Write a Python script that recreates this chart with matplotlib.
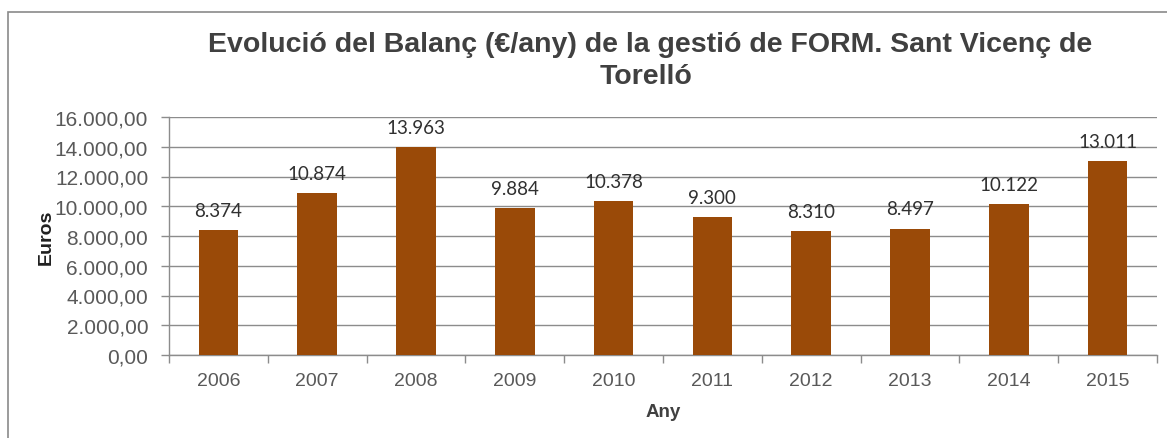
import numpy as np
import matplotlib.pyplot as plt
import matplotlib as mpl
from matplotlib.patches import Rectangle
from matplotlib.ticker import FuncFormatter, MultipleLocator

# ---------------------------------------------------------------------------
# Data
# ---------------------------------------------------------------------------
years = ["2006", "2007", "2008", "2009", "2010",
         "2011", "2012", "2013", "2014", "2015"]
balance = [8374, 10874, 13963, 9884, 10378, 9300, 8310, 8497, 10122, 13011]
bar_labels = ["8.374", "10.874", "13.963", "9.884", "10.378",
              "9.300", "8.310", "8.497", "10.122", "13.011"]

title_1 = "Evolució del Balanç (€/any) de la gestió de FORM. Sant Vicenç de"
title_2 = "Torelló"

mpl.rcParams.update({"font.family": ["Liberation Sans", "DejaVu Sans"]})

BAR_COLOR = "#9a4a08"
GRID_COLOR = "#8c8c8c"
TEXT_GRAY = "#595959"


def euro_fmt(v, pos):
    s = f"{v:,.2f}"
    return s.replace(",", "X").replace(".", ",").replace("X", ".")


# ---------------------------------------------------------------------------
# Plot
# ---------------------------------------------------------------------------
fig = plt.figure(figsize=(11.67, 4.39), dpi=100)
ax = fig.add_axes([169 / 1167, 1 - 356 / 439, (1157 - 169) / 1167, (356 - 118) / 439])

# outer chart frame (Excel style)
fig.patches.append(Rectangle((8 / 1167, -0.1), 1.2, 1 - 13 / 439 + 0.1,
                             transform=fig.transFigure, fill=False,
                             edgecolor="#8a8a8a", lw=1.2))

x = np.arange(len(years))
ax.bar(x, balance, width=0.4, color=BAR_COLOR, zorder=3)

for xi, v, lab in zip(x, balance, bar_labels):
    ax.annotate(lab, (xi, v), xytext=(0, 8), textcoords="offset points",
                ha="center", va="bottom", fontsize=13.5, color="#303030",
                family=["Lato", "DejaVu Sans"])

ax.set_xlim(-0.5, len(years) - 0.5)
ax.set_ylim(0, 16000)
ax.yaxis.set_major_locator(MultipleLocator(2000))
ax.yaxis.set_major_formatter(FuncFormatter(euro_fmt))
ax.grid(axis="y", color=GRID_COLOR, lw=1, zorder=0)

ax.set_xticks(x)
ax.set_xticklabels(years)
ax.set_xticks(np.arange(-0.5, len(years)), minor=True)
ax.tick_params(axis="x", which="major", length=0, pad=12,
               labelsize=14, labelcolor=TEXT_GRAY)
ax.tick_params(axis="x", which="minor", length=6, color=GRID_COLOR, width=1)
ax.tick_params(axis="y", length=6, color=GRID_COLOR, width=1, pad=9,
               labelsize=15, labelcolor=TEXT_GRAY)

for side in ("top", "right"):
    ax.spines[side].set_visible(False)
for side in ("left", "bottom"):
    ax.spines[side].set_color(GRID_COLOR)
    ax.spines[side].set_linewidth(1)

ax.set_xlabel("Any", fontsize=13.5, fontweight="bold", color="#404040", labelpad=10)
ax.set_ylabel("Euros", fontsize=14, fontweight="bold", color="#202020", labelpad=0)

fig.text(650 / 1167, 1 - 45 / 439, title_1, ha="center", va="center",
         fontsize=20.5, fontweight="bold", color="#404040")
fig.text(646 / 1167, 1 - 77 / 439, title_2, ha="center", va="center",
         fontsize=20.5, fontweight="bold", color="#404040")

fig.savefig("out.png", dpi=100)
plt.close(fig)
